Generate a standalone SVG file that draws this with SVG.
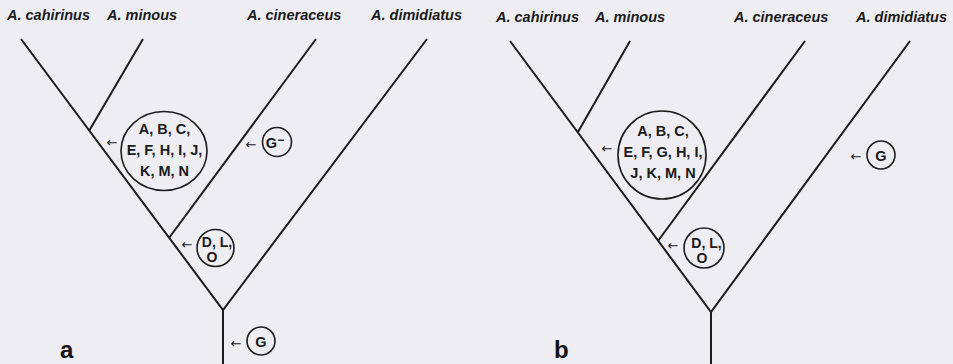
<svg xmlns="http://www.w3.org/2000/svg" width="953" height="364" viewBox="0 0 953 364">
<style>
.bg{fill:#eeedf2}
.br{stroke:#1c1c1c;stroke-width:2;fill:none;stroke-linecap:butt}
.ring{stroke:#1c1c1c;stroke-width:1.6;fill:none}
.sp{font-family:"Liberation Sans",Arial,sans-serif;font-weight:bold;font-style:italic;font-size:14.5px;fill:#1a1a1a}
.ch{font-family:"Liberation Sans",Arial,sans-serif;font-weight:bold;font-size:14.5px;fill:#1a1a1a;text-anchor:middle}
.sm{font-family:"Liberation Sans",Arial,sans-serif;font-weight:bold;font-size:14px;fill:#1a1a1a;text-anchor:middle}
.ar{font-family:"DejaVu Sans","Liberation Sans",sans-serif;font-size:13px;fill:#1a1a1a;text-anchor:middle}
.lab{font-family:"Liberation Sans",Arial,sans-serif;font-weight:bold;font-size:24px;fill:#111}
</style>
<rect class="bg" x="0" y="0" width="953" height="364"/>

<g id="connectors">
  <!-- tree a -->
  <path class="br" d="M21,39 L223,310 L427,39"/>
  <path class="br" d="M223,310 L223,364"/>
  <path class="br" d="M169,238 L316,39"/>
  <path class="br" d="M89,131 L143,39"/>
  <!-- tree b -->
  <path class="br" d="M510,41 L711,312 L910,41"/>
  <path class="br" d="M711,312 L711,364"/>
  <path class="br" d="M658,241 L805,41"/>
  <path class="br" d="M578,132 L630,41"/>
</g>

<g id="taxa-a">
  <text class="sp" x="7" y="20">A. cahirinus</text>
  <text class="sp" x="107" y="20">A. minous</text>
  <text class="sp" x="247" y="20">A. cineraceus</text>
  <text class="sp" x="371" y="20">A. dimidiatus</text>
</g>
<g id="taxa-b">
  <text class="sp" x="496" y="21.5">A. cahirinus</text>
  <text class="sp" x="595" y="21.5">A. minous</text>
  <text class="sp" x="734" y="21.5">A. cineraceus</text>
  <text class="sp" x="856" y="21.5">A. dimidiatus</text>
</g>

<g id="a-big">
  <ellipse class="ring" cx="164" cy="151" rx="43" ry="39.5"/>
  <text class="ch" x="164.5" y="134">A, B, C,</text>
  <text class="ch" x="164.5" y="155">E, F, H, I, J,</text>
  <text class="ch" x="164.5" y="176">K, M, N</text>
  <text class="ar" x="112" y="147">←</text>
</g>
<g id="a-gminus">
  <circle class="ring" cx="277" cy="142" r="14.5"/>
  <text class="ch" x="275" y="147.5">G<tspan font-size="12" dy="-4">−</tspan></text>
  <text class="ar" x="251" y="149">←</text>
</g>
<g id="a-dlo">
  <circle class="ring" cx="215.5" cy="248" r="18.5"/>
  <text class="sm" x="217" y="247">D, L,</text>
  <text class="sm" x="212" y="262">O</text>
  <text class="ar" x="187" y="249">←</text>
</g>
<g id="a-g">
  <circle class="ring" cx="261" cy="341" r="14"/>
  <text class="ch" x="261" y="346.5">G</text>
  <text class="ar" x="236" y="348">←</text>
</g>
<text id="label-a" class="lab" x="60" y="358">a</text>

<g id="b-big">
  <circle class="ring" cx="662" cy="155" r="44"/>
  <text class="ch" x="663" y="136">A, B, C,</text>
  <text class="ch" x="663" y="156.5">E, F, G, H, I,</text>
  <text class="ch" x="663" y="177.5">J, K, M, N</text>
  <text class="ar" x="607" y="153">←</text>
</g>
<g id="b-dlo">
  <circle class="ring" cx="704" cy="248" r="20"/>
  <text class="sm" x="706.5" y="247.5">D, L,</text>
  <text class="sm" x="702" y="262.5">O</text>
  <text class="ar" x="673" y="250">←</text>
</g>
<g id="b-g">
  <circle class="ring" cx="881" cy="155" r="14"/>
  <text class="ch" x="881" y="160.5">G</text>
  <text class="ar" x="856" y="161">←</text>
</g>
<text id="label-b" class="lab" x="554" y="358">b</text>
</svg>
